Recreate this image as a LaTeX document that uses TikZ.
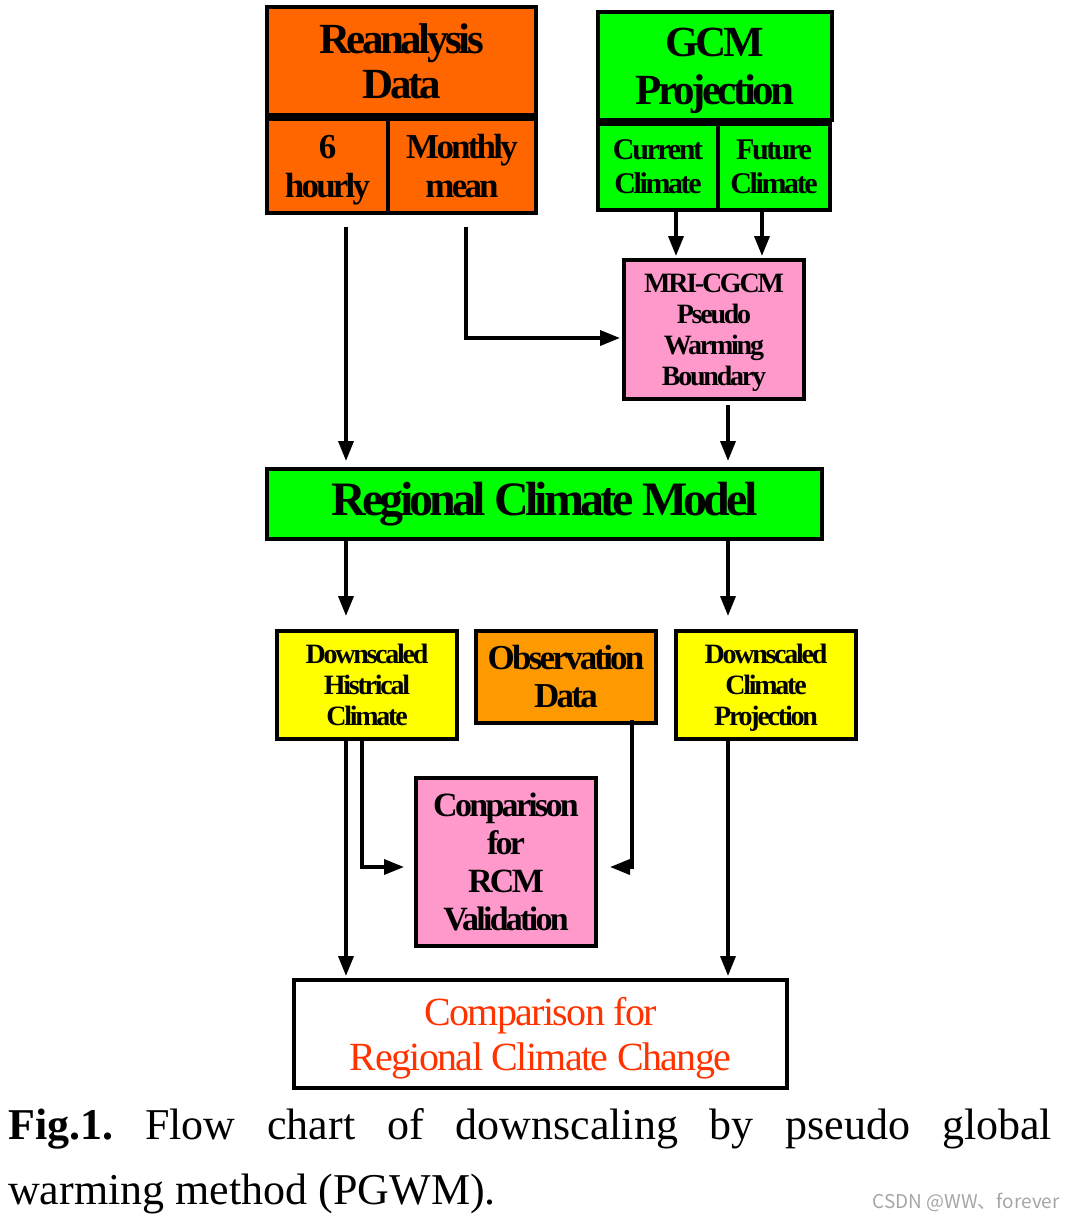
\documentclass[tikz,border=0pt]{standalone}
\usepackage{fontspec}
\setmainfont{Liberation Serif}
\newfontfamily\boxfont{Liberation Serif}[LetterSpace=-8]
\newfontfamily\redfont{Liberation Serif}[LetterSpace=-4]
\newfontfamily\markfont{Noto Sans CJK SC}
\usetikzlibrary{arrows.meta, positioning}
\newcommand\fsz[2]{\fontsize{#1}{#2}\selectfont}
\definecolor{reanaOrange}{HTML}{FF6600}
\definecolor{gcmGreen}{HTML}{00FF00}
\definecolor{mriPink}{HTML}{FF99CC}
\definecolor{dsYellow}{HTML}{FFFF00}
\definecolor{obsOrange}{HTML}{FF9900}
\definecolor{resRed}{HTML}{FF3300}
\frenchspacing

\begin{document}
\begin{tikzpicture}[x=1pt,y=-1pt,
        %Styles
        Cell/.style={draw=black, line width=4pt, inner sep=0pt, align=center},
        Arrow/.style={line width=3.5pt, -{Triangle[length=20pt,width=15pt]}},
    ]
\useasboundingbox (0,0) rectangle (1065,1219);

%reanalysis data
\node[Cell, fill=reanaOrange, minimum width=269pt, minimum height=108pt,
      font=\boxfont\bfseries\fsz{43}{45}] (rea) at (401.5,61) {Reanalysis\\Data};
\node[Cell, fill=reanaOrange, minimum width=121pt, minimum height=94pt, text depth=0pt,
      font=\boxfont\bfseries\fsz{35}{39}] (sixh) at (327.5,166) {6\\hourly};
\node[Cell, fill=reanaOrange, minimum width=148pt, minimum height=94pt,
      font=\boxfont\bfseries\fsz{35}{39}] (month) at (462,166) {Monthly\\mean};

%gcm projection
\node[Cell, fill=gcmGreen, minimum width=234pt, minimum height=108pt, text depth=0pt,
      font=\boxfont\bfseries\fsz{43}{48}] (gcm) at (715,66) {GCM\\Projection};
\node[Cell, fill=gcmGreen, minimum width=120pt, minimum height=86pt,
      font=\boxfont\bfseries\fsz{30}{34}] (cur) at (658,167) {Current\\Climate};
\node[Cell, fill=gcmGreen, minimum width=112pt, minimum height=86pt,
      font=\boxfont\bfseries\fsz{30}{34}] (fut) at (774,167) {Future\\Climate};

%boundary and model
\node[Cell, fill=mriPink, minimum width=180pt, minimum height=139pt, text depth=0pt,
      font=\boxfont\bfseries\fsz{28}{31}] (mri) at (714,329.5) {MRI-CGCM\\Pseudo\\Warming\\Boundary};
\node[Cell, fill=gcmGreen, minimum width=555pt, minimum height=70pt,
      font=\boxfont\bfseries\fsz{48}{52}] (rcm) at (544.5,504) {Regional Climate Model};

%outputs
\node[Cell, fill=dsYellow, minimum width=180pt, minimum height=108pt,
      font=\boxfont\bfseries\fsz{28}{31}] (hist) at (367,685) {Downscaled\\Histrical\\Climate};
\node[Cell, fill=obsOrange, minimum width=180pt, minimum height=92pt,
      font=\boxfont\bfseries\fsz{35}{38}] (obs) at (566,677) {Observation\\Data};
\node[Cell, fill=dsYellow, minimum width=180pt, minimum height=108pt, text depth=0pt,
      font=\boxfont\bfseries\fsz{28}{31}] (proj) at (766,685) {Downscaled\\Climate\\Projection};
\node[Cell, fill=mriPink, minimum width=180pt, minimum height=168pt,
      font=\boxfont\bfseries\fsz{34}{38}] (valid) at (506,862) {Conparison\\for\\RCM\\Validation};
\node[Cell, fill=white, minimum width=493pt, minimum height=108pt, text=resRed, text depth=0pt,
      font=\redfont\fsz{40}{45}] (final) at (540.5,1034) {Comparison for\\Regional Climate Change};

%connectors
\draw[Arrow, shorten >=6pt] ([xshift=18.5pt,yshift=-12pt]sixh.south) -- ([xshift=18.5pt]sixh.south |- rcm.north);
\draw[Arrow, shorten >=2pt] ([xshift=4pt,yshift=-12pt]month.south) |- ([yshift=-8.5pt]mri.west);
\draw[Arrow, shorten >=2pt] ([xshift=18pt]cur.south) -- ([xshift=18pt]cur.south |- mri.north);
\draw[Arrow, shorten >=2pt] ([xshift=-12pt]fut.south) -- ([xshift=-12pt]fut.south |- mri.north);
\draw[Arrow, shorten >=6pt] ([xshift=14pt,yshift=-4pt]mri.south) -- ([xshift=14pt]mri.south |- rcm.north);
\draw[Arrow, shorten >=13pt] ([xshift=-21pt]hist.north |- rcm.south) -- ([xshift=-21pt]hist.north);
\draw[Arrow, shorten >=13pt] ([xshift=-38pt]proj.north |- rcm.south) -- ([xshift=-38pt]proj.north);
\draw[Arrow, shorten >=2pt] ([xshift=-21pt]hist.south) -- ([xshift=-21pt]hist.south |- final.north);
\draw[Arrow, shorten >=2pt] ([xshift=-38pt]proj.south) -- ([xshift=-38pt]proj.south |- final.north);
\draw[Arrow, shorten >=10pt] ([xshift=-5pt]hist.south) |- ([yshift=-5pt]valid.west);
\draw[Arrow, shorten >=12pt] ([xshift=66pt,yshift=5pt]obs.south) |- ([yshift=-5pt]valid.east);

%caption
\node[anchor=north west, inner sep=0pt, text width=1044pt, align=justify,
      font=\fsz{44}{65}] (caption) at (8,1108)
  {\textbf{Fig.1.} Flow chart of downscaling by pseudo global\linebreak warming method (PGWM).};
\node[anchor=base east, inner sep=0pt, text=black!35, font=\markfont\fsz{19}{22}] (mark) at (1060,1208) {CSDN @WW、forever};
\end{tikzpicture}
\end{document}
